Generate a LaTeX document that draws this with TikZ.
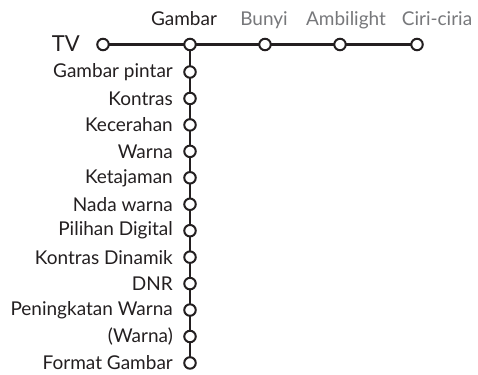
\documentclass[tikz,border=0pt]{standalone}
\usepackage{fontspec}
\setmainfont{Lato}
\usetikzlibrary{backgrounds}
\definecolor{ink}{HTML}{231F20}
\definecolor{dim}{HTML}{77787B}
\begin{document}
\begin{tikzpicture}[x=1pt,y=-1pt,
  dot/.style={circle,draw=ink,line width=2pt,fill=white,minimum size=11.5pt,inner sep=0pt},
  lab/.style={anchor=east,text=ink,font=\fontsize{19}{19}\selectfont,inner sep=0pt},
  head/.style={anchor=base,font=\fontsize{19}{19}\selectfont,inner sep=0pt},
  wire/.style={draw=ink,line width=2.3pt}]
\useasboundingbox (0,0) rectangle (478,374);
\node[dot] (tv) at (103,44.5) {};
\node[dot] (h1) at (190,44.5) {};
\node[dot] (h2) at (265,44.5) {};
\node[dot] (h3) at (340,44.5) {};
\node[dot] (h4) at (417,44.5) {};
\node[anchor=east,text=ink,font=\fontsize{22}{22}\selectfont,inner sep=0pt] (tvl) at (80,44) {TV};
\node[head,text=ink] (t1) at (184,26) {Gambar};
\node[head,text=dim] (t2) at (264,26) {Bunyi};
\node[head,text=dim] (t3) at (346,26) {Ambilight};
\node[head,text=dim] (t4) at (437,26) {Ciri-ciria};
\foreach \i/\t in {1/Gambar pintar,2/Kontras,3/Kecerahan,4/Warna,5/Ketajaman,6/Nada warna,7/Pilihan Digital,8/Kontras Dinamik,9/DNR,10/Peningkatan Warna,11/(Warna),12/Format Gambar}{
  \node[dot] (v\i) at (190,{72+(\i-1)*26.45}) {};
  \node[lab] (l\i) at (173,{72+(\i-1)*26.45}) {\t};
}
\begin{pgfonlayer}{background}
\draw[wire] (tv.center) -- (h1.center);
\draw[wire] (h1.center) -- (h2.center);
\draw[wire] (h2.center) -- (h3.center);
\draw[wire] (h3.center) -- (h4.center);
\draw[wire] (h1.center) -- (v1.center);
\foreach \i [count=\j from 2] in {1,...,11}{\draw[wire] (v\i.center) -- (v\j.center);}
\end{pgfonlayer}
\end{tikzpicture}
\end{document}
